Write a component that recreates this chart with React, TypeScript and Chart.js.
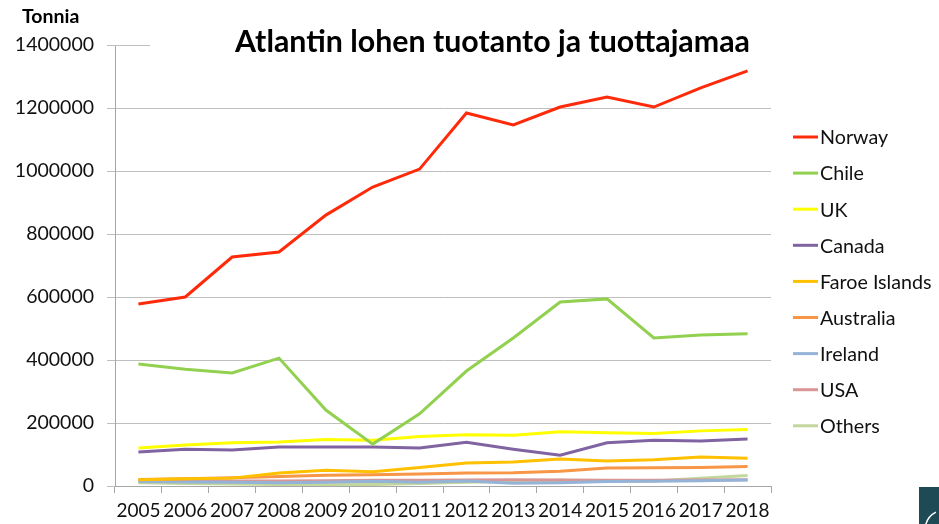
import React, { useEffect, useRef } from 'react';
import { Chart, registerables } from 'chart.js';

Chart.register(...registerables);

const years = ['2005', '2006', '2007', '2008', '2009', '2010', '2011', '2012', '2013', '2014', '2015', '2016', '2017', '2018'];

const norway = [578000, 600000, 727000, 743000, 860000, 949000, 1006000, 1184000, 1146000, 1203000, 1235000, 1203000, 1264000, 1318000];
const chile = [387000, 371000, 359000, 406000, 241000, 133000, 229000, 365000, 470000, 584000, 594000, 470000, 479000, 483000];
const uk = [121000, 130000, 137000, 140000, 148000, 145000, 157000, 163000, 161000, 172000, 169000, 167000, 175000, 179000];
const canada = [108000, 117000, 114000, 124000, 124000, 124000, 121000, 139000, 117000, 98000, 137000, 145000, 143000, 149000];
const faroe = [20000, 23000, 25000, 41000, 50000, 45000, 59000, 73000, 76000, 86000, 79000, 83000, 92000, 88000];
const australia = [21000, 23000, 26000, 30000, 34000, 36000, 38000, 41000, 42000, 47000, 57000, 58000, 59000, 62000];
const ireland = [14000, 13000, 12000, 10000, 12000, 15000, 12000, 16000, 9000, 10000, 14000, 15000, 17000, 19000];
const usa = [17000, 17000, 16000, 16000, 17000, 18000, 18000, 19000, 20000, 19000, 18000, 18000, 19000, 20000];
const others = [10000, 8000, 6000, 5000, 4000, 5000, 8000, 12000, 15000, 18000, 17000, 16000, 25000, 33000];

const seriesNames = ['Norway', 'Chile', 'UK', 'Canada', 'Faroe Islands', 'Australia', 'Ireland', 'USA', 'Others'];
const seriesValues = [norway, chile, uk, canada, faroe, australia, ireland, usa, others];
const seriesColors = ['#ff2a0a', '#92d050', '#ffff00', '#8064a2', '#ffc000', '#f79646', '#95b3d7', '#d99694', '#c3d69b'];

const yTicks = [0, 200000, 400000, 600000, 800000, 1000000, 1200000, 1400000];

const titleText = 'Atlantin lohen tuotanto ja tuottajamaa';
const unitText = 'Tonnia';

const FONT = 'Lato, "Open Sans", sans-serif';

const overlay = {
  id: 'overlay',
  afterDraw(chart: any) {
    const ctx = chart.ctx;
    const area = chart.chartArea;
    const ys = chart.scales.y;
    ctx.save();
    // short top gridline
    const ty = Math.round(ys.getPixelForValue(yTicks[yTicks.length - 1])) + 0.5;
    ctx.strokeStyle = '#bfbfbf';
    ctx.lineWidth = 1;
    ctx.beginPath();
    ctx.moveTo(area.left, ty);
    ctx.lineTo(150, ty);
    ctx.stroke();

    // unit label
    ctx.fillStyle = '#000000';
    ctx.font = `bold 19.5px ${FONT}`;
    ctx.textAlign = 'left';
    ctx.textBaseline = 'middle';
    ctx.fillText(unitText, 22, 17);

    // title
    ctx.font = `bold 100px ${FONT}`;
    const w100 = ctx.measureText(titleText).width;
    const size = (100 * 515) / w100;
    ctx.font = `bold ${size}px ${FONT}`;
    ctx.fillText(titleText, 235, 42);

    // legend
    ctx.font = `19.7px ${FONT}`;
    chart.data.datasets.forEach((ds: any, i: number) => {
      const ly = 137 + i * 36.1;
      ctx.strokeStyle = ds.borderColor;
      ctx.lineWidth = 3;
      ctx.beginPath();
      ctx.moveTo(793, ly);
      ctx.lineTo(818, ly);
      ctx.stroke();
      ctx.fillStyle = '#111111';
      ctx.textAlign = 'left';
      ctx.textBaseline = 'middle';
      ctx.fillText(ds.label, 820, ly + 1);
    });

    // slide corner fragment
    ctx.fillStyle = '#1d4a55';
    ctx.fillRect(919, 487, 20, 37);
    ctx.strokeStyle = '#ffffff';
    ctx.lineWidth = 1.5;
    ctx.beginPath();
    ctx.arc(945, 530, 20, Math.PI * 1.05, Math.PI * 1.35);
    ctx.stroke();
    ctx.restore();
  },
};

export default function App() {
  const ref = useRef<HTMLCanvasElement | null>(null);

  useEffect(() => {
    if (!ref.current) return;
    const chart = new Chart(ref.current, {
      type: 'line',
      data: {
        labels: years,
        datasets: seriesNames.map((name, i) => ({
          label: name,
          data: seriesValues[i],
          borderColor: seriesColors[i],
          backgroundColor: seriesColors[i],
          borderWidth: 3,
          pointRadius: 0,
          tension: 0,
          fill: false,
        })),
      },
      options: {
        responsive: false,
        animation: false,
        devicePixelRatio: 1,
        layout: { padding: { left: 0, right: 939 - 771, top: 45, bottom: 0 } },
        plugins: {
          legend: { display: false },
          title: { display: false },
          tooltip: { enabled: false },
        },
        scales: {
          x: {
            offset: true,
            afterFit: (s: any) => {
              s.height = 38;
            },
            grid: {
              offset: true,
              drawOnChartArea: false,
              drawTicks: true,
              tickLength: 7,
              color: '#a6a6a6',
            },
            border: { color: '#a6a6a6', width: 1 },
            ticks: {
              color: '#111111',
              font: { family: FONT, size: 19 },
              padding: 6,
              maxRotation: 0,
              autoSkip: false,
            },
          },
          y: {
            min: 0,
            max: 1400000,
            afterFit: (s: any) => {
              s.width = 115;
            },
            afterBuildTicks: (s: any) => {
              s.ticks = yTicks.map((v) => ({ value: v }));
            },
            grid: {
              color: (c: any) => (c.tick && c.tick.value === yTicks[yTicks.length - 1] ? 'rgba(0,0,0,0)' : '#bfbfbf'),
              tickColor: '#bfbfbf',
              tickLength: 8,
              lineWidth: 1,
            },
            border: { color: '#a6a6a6', width: 1 },
            ticks: {
              color: '#111111',
              font: { family: FONT, size: 19.5 },
              padding: 13,
              callback: (v: any) => String(v),
            },
          },
        },
      },
      plugins: [overlay],
    });
    return () => chart.destroy();
  }, []);

  return (
    <div style={{ position: 'fixed', left: 0, top: 0, width: 939, height: 524, background: '#ffffff' }}>
      <canvas ref={ref} width={939} height={524} style={{ width: 939, height: 524 }} />
    </div>
  );
}
